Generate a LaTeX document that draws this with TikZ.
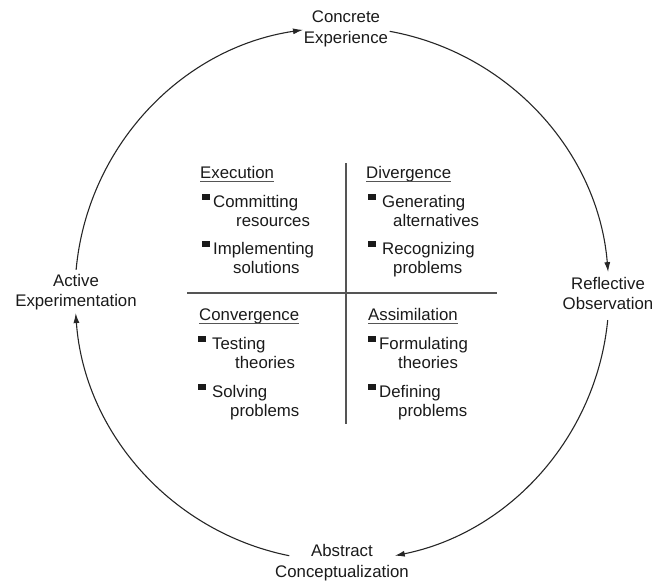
\documentclass[tikz,border=0pt]{standalone}
\usepackage{fontspec}
\setmainfont{Liberation Sans}
\usetikzlibrary{arrows.meta}

\definecolor{inkcol}{HTML}{1A1A1A}
\definecolor{arccol}{HTML}{262626}
\definecolor{gridcol}{HTML}{555555}

\tikzset{
  label/.style={align=center, inner sep=0pt, text=inkcol,
    font=\fontsize{16.8}{20.5}\selectfont},
  itemtext/.style={anchor=base west, inner sep=0pt, text=inkcol,
    font=\fontsize{16.8}{20}\selectfont},
  heading/.style={itemtext},
  headrule/.style={draw=gridcol, line width=0.8pt},
  cyclearc/.style={draw=arccol, line width=1.1pt,
    -{Latex[length=10pt,width=6pt]}},
  divider/.style={draw=gridcol, line width=1.4pt},
  bulletmark/.style={fill=inkcol, draw=none},
}

\begin{document}
\begin{tikzpicture}[x=1pt,y=1pt]
  \useasboundingbox (0,0) rectangle (654,-582);

  % centre of the learning cycle
  \coordinate (c) at (342,-294);

  % the four stages of the cycle
  \node[label] (ce) at (346,-28.8) {Concrete\\Experience};
  \node[label] (ro) at (608,-293.5) {Reflective\\Observation};
  \node[label] (ac) at (342,-562.8) {Abstract\\Conceptualization};
  \node[label] (ae) at (76,-292.3) {Active\\Experimentation};

  % end points of the arcs on the circle
  \coordinate (a1s) at ([shift={(174.8:267)}]c);
  \coordinate (a2s) at ([shift={(79.7:267)}]c);
  \coordinate (a3s) at ([shift={(-5.6:267)}]c);
  \coordinate (a4s) at ([shift={(-101.4:267)}]c);

  \draw[cyclearc] (a1s) arc[start angle=174.8, end angle=98.4, radius=267];
  \draw[cyclearc] (a2s) arc[start angle=79.7, end angle=4.7, radius=267];
  \draw[cyclearc] (a3s) arc[start angle=-5.6, end angle=-78.6, radius=267];
  \draw[cyclearc] (a4s) arc[start angle=-101.4, end angle=-175.9, radius=267];

  % quadrant dividers
  \coordinate (vt) at (346,-163);
  \coordinate (vb) at (346,-424);
  \coordinate (hl) at (187,-293);
  \coordinate (hr) at (497,-293);
  \draw[divider] (vt) -- (vb);
  \draw[divider] (hl) -- (hr);

  % ---- Execution ----
  \node[heading] (hex) at (200,-178) {Execution};
  \draw[headrule] ([yshift=-3.5pt]hex.base west) -- ([yshift=-3.5pt]hex.base east);
  \fill[bulletmark] (202,-194) rectangle (210,-200);
  \node[itemtext] (ex1a) at (213,-207) {Committing};
  \node[itemtext] (ex1b) at (236,-226) {resources};
  \fill[bulletmark] (202,-241) rectangle (210,-247);
  \node[itemtext] (ex2a) at (213,-254) {Implementing};
  \node[itemtext] (ex2b) at (233,-273) {solutions};

  % ---- Divergence ----
  \node[heading] (hdi) at (366,-178) {Divergence};
  \draw[headrule] ([yshift=-3.5pt]hdi.base west) -- ([yshift=-3.5pt]hdi.base east);
  \fill[bulletmark] (368,-194) rectangle (376,-200);
  \node[itemtext] (di1a) at (382,-207) {Generating};
  \node[itemtext] (di1b) at (393,-226) {alternatives};
  \fill[bulletmark] (368,-241) rectangle (376,-247);
  \node[itemtext] (di2a) at (382,-254) {Recognizing};
  \node[itemtext] (di2b) at (393,-273) {problems};

  % ---- Convergence ----
  \node[heading] (hco) at (199,-320) {Convergence};
  \draw[headrule] ([yshift=-3.5pt]hco.base west) -- ([yshift=-3.5pt]hco.base east);
  \fill[bulletmark] (198,-336) rectangle (206,-342);
  \node[itemtext] (co1a) at (212,-349) {Testing};
  \node[itemtext] (co1b) at (235,-368) {theories};
  \fill[bulletmark] (198,-384) rectangle (206,-390);
  \node[itemtext] (co2a) at (212,-397) {Solving};
  \node[itemtext] (co2b) at (230,-416) {problems};

  % ---- Assimilation ----
  \node[heading] (has) at (368,-320) {Assimilation};
  \draw[headrule] ([yshift=-3.5pt]has.base west) -- ([yshift=-3.5pt]has.base east);
  \fill[bulletmark] (368,-336) rectangle (376,-342);
  \node[itemtext] (as1a) at (379,-349) {Formulating};
  \node[itemtext] (as1b) at (398,-368) {theories};
  \fill[bulletmark] (368,-384) rectangle (376,-390);
  \node[itemtext] (as2a) at (379,-397) {Defining};
  \node[itemtext] (as2b) at (398,-416) {problems};
\end{tikzpicture}
\end{document}
